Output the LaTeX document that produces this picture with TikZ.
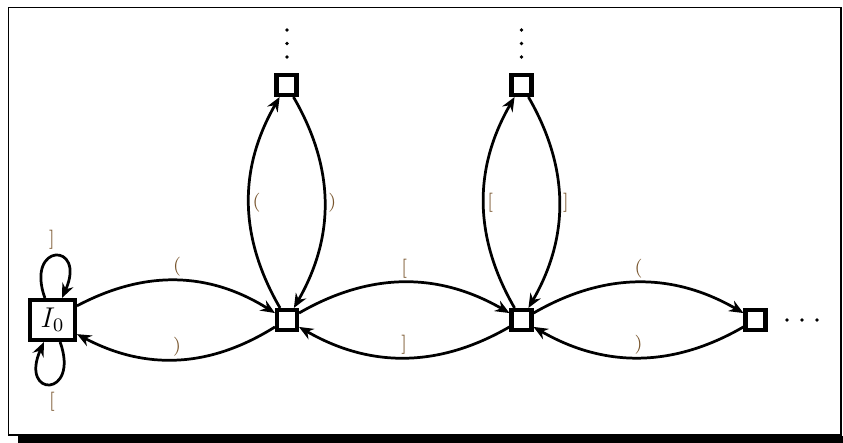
\documentclass[tikz,border=0pt]{standalone}
\usetikzlibrary{arrows.meta}
\definecolor{lab}{RGB}{120,85,45}
\begin{document}
\begin{tikzpicture}[x=0.42pt,y=-0.42pt,
  st/.style={draw,line width=1.7pt,minimum size=8.4pt,inner sep=0pt},
  init/.style={draw,line width=1.7pt,minimum width=18.9pt,minimum height=16.8pt,inner sep=0pt,font=\fontsize{11.5}{13}\selectfont},
  ed/.style={line width=1.15pt,-{Stealth[length=6pt,width=5pt,inset=2pt]}},
  lb/.style={font=\footnotesize,text=lab,inner sep=1pt},
  dotc/.style={fill,circle,inner sep=0pt,minimum size=1.6pt}]
\useasboundingbox (0,0) rectangle (843,443);
\fill (18,436) rectangle (843,443);
\draw[line width=0.8pt] (8.5,7.5) rectangle (841,435);
% states
\node[init] (I0) at (52.5,320) {$I_0$};
\node[st] (n1) at (287,320) {};
\node[st] (n2) at (521.5,320) {};
\node[st] (n3) at (755.5,320) {};
\node[st] (t1) at (286.5,85) {};
\node[st] (t2) at (521.5,85) {};
% dots
\node[dotc] (a1) at (287,30) {};
\node[dotc] (a2) at (287,43.5) {};
\node[dotc] (a3) at (287,57) {};
\node[dotc] (b1) at (521.5,30) {};
\node[dotc] (b2) at (521.5,43.5) {};
\node[dotc] (b3) at (521.5,57) {};
\node[dotc] (c1) at (787,320) {};
\node[dotc] (c2) at (802,320) {};
\node[dotc] (c3) at (817,320) {};
% horizontal edges
\draw[ed] (I0) to[bend left=30] node[lb,above]{(} (n1);
\draw[ed] (n1) to[bend left=30] node[lb,above]{)} (I0);
\draw[ed] (n1) to[bend left=30] node[lb,above]{[} (n2);
\draw[ed] (n2) to[bend left=30] node[lb,above]{]} (n1);
\draw[ed] (n2) to[bend left=30] node[lb,above]{(} (n3);
\draw[ed] (n3) to[bend left=30] node[lb,above]{)} (n2);
% vertical edges
\draw[ed] (n1) to[bend left=30] node[lb,right]{(} (t1);
\draw[ed] (t1) to[bend left=30] node[lb,right]{)} (n1);
\draw[ed] (n2) to[bend left=30] node[lb,right]{[} (t2);
\draw[ed] (t2) to[bend left=30] node[lb,right]{]} (n2);
% self loops
\draw[ed] ([xshift=-3.2pt]I0.north) .. controls +(-20,-56) and +(25,-56) .. ([xshift=4pt]I0.north);
\draw[ed] ([xshift=3.2pt]I0.south) .. controls +(20,56) and +(-25,56) .. ([xshift=-3.6pt]I0.south);
\node[lb] (l1) at (52,240) {]};
\node[lb] (l2) at (52,402) {[};
\end{tikzpicture}
\end{document}
